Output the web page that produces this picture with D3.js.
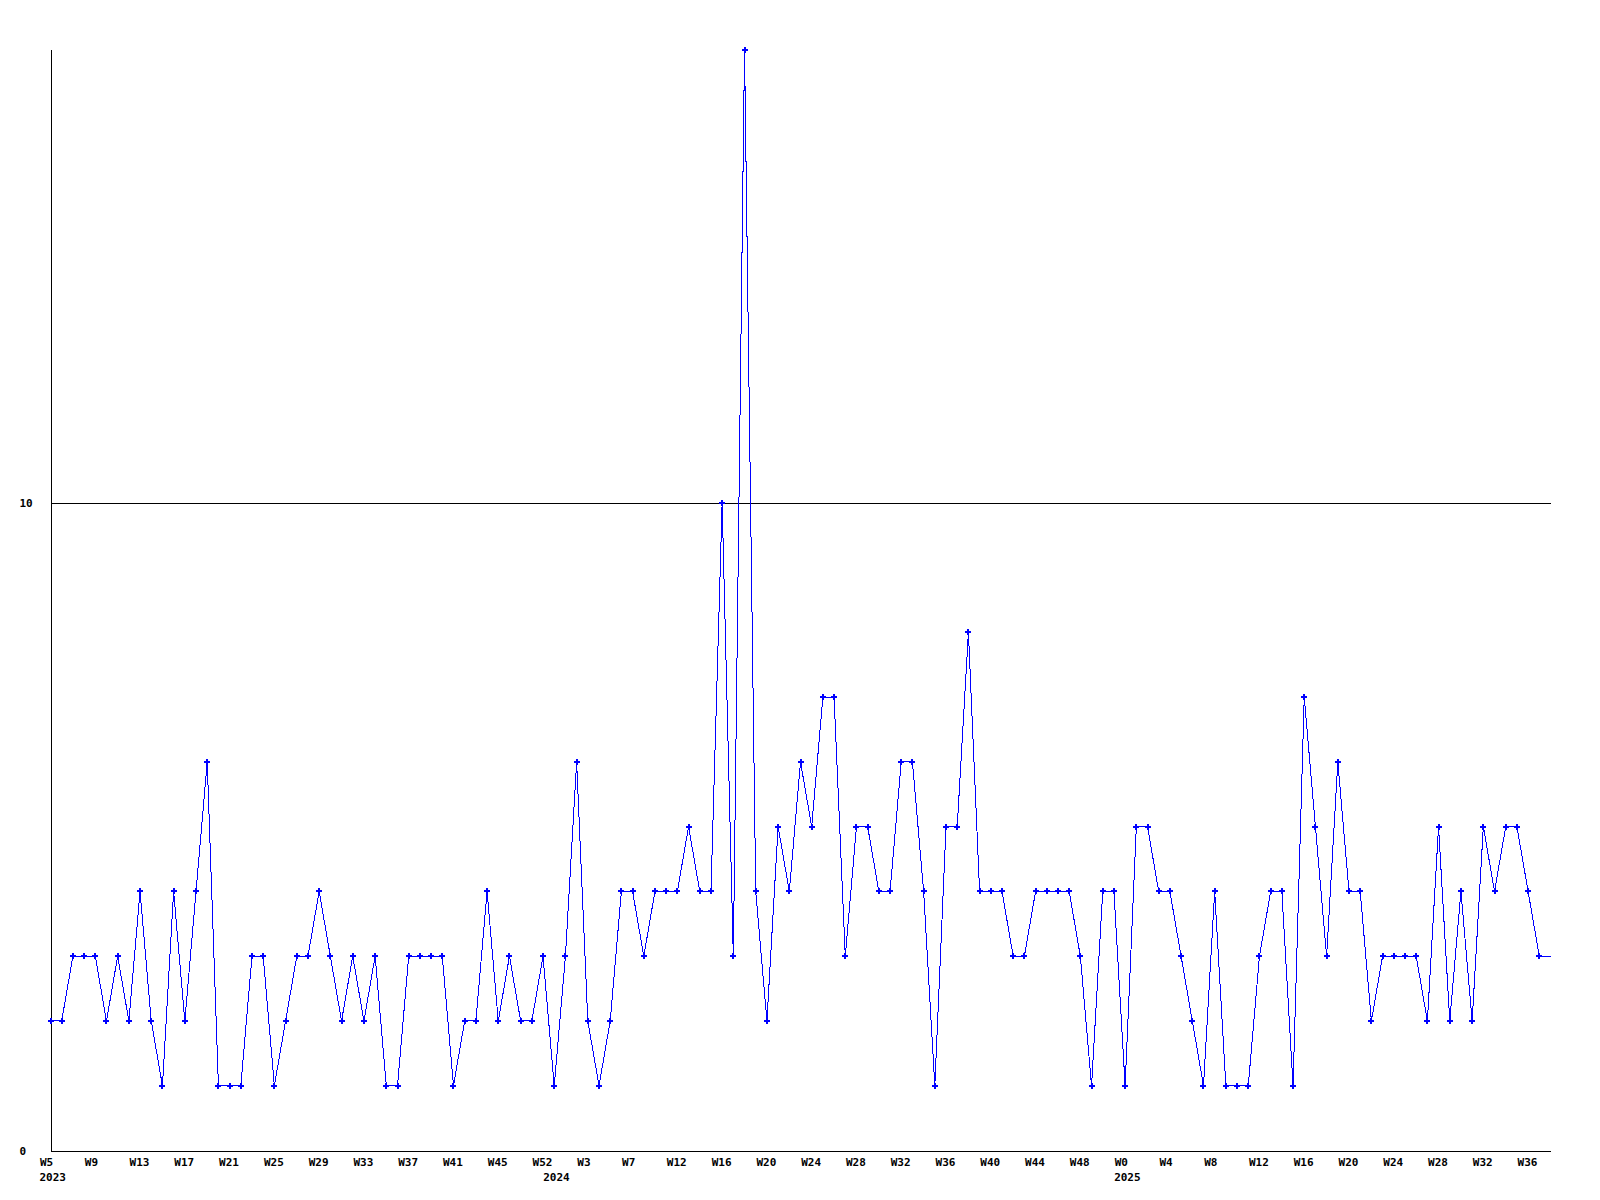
<!DOCTYPE html>
<html>
<head>
<meta charset="utf-8">
<script src="https://cdn.jsdelivr.net/npm/d3@7"></script>
<style>
  body { margin: 0; background: #fff; }
  text { font-family: "DejaVu Sans Mono", monospace; font-size: 11px; font-weight: bold; fill: #000; }
</style>
</head>
<body>
<div id="chart"></div>
<script>
// weekly counts, one per week, starting at 2023 W5
var counts = [
  2,2,3,3,3,2,3,2,4,2,1,4,2,4,6,1,1,1,3,3,1,2,3,3,4,3,2,3,2,3,1,1,3,3,3,3,1,2,2,4,2,3,2,2,3,1,3,
  6,2,1,2,4,4,3,4,4,4,5,4,4,10,3,17,4,2,5,4,6,5,7,7,3,5,5,4,4,6,6,4,1,5,5,8,4,4,4,3,3,4,4,4,4,3,
  1,4,4,1,5,5,4,4,3,2,1,4,1,1,1,3,4,4,1,7,5,3,6,4,4,2,3,3,3,3,2,5,2,4,2,5,4,5,5,4,3,
  3 // current week, not finished (no marker)
];

// x axis labels, one every 4 weeks
var weekLabels = ["W5","W9","W13","W17","W21","W25","W29","W33","W37","W41","W45","W52",
                  "W3","W7","W12","W16","W20","W24","W28","W32","W36","W40","W44","W48",
                  "W0","W4","W8","W12","W16","W20","W24","W28","W32","W36"];
var yearLabels = ["2023","2024","2025"];
var yearStarts = [0, 45, 96];
var yTicks = [0, 10];

var width = 1600, height = 1200;

var svg = d3.select("#chart").append("svg")
    .attr("width", width)
    .attr("height", height);

var x = d3.scaleLinear().domain([0, counts.length - 1]).range([50.5, 1550.5]);
var y = d3.scaleLinear().domain([0, d3.max(counts)]).range([1150.5, 49.5]);

// gridline at 10
svg.append("line")
    .attr("x1", x(0)).attr("x2", x(counts.length - 1))
    .attr("y1", Math.round(y(10)) + 0.5).attr("y2", Math.round(y(10)) + 0.5)
    .attr("stroke", "#000")
    .attr("shape-rendering", "crispEdges");

// y axis
var yAxis = svg.append("g")
    .attr("transform", "translate(" + x(0) + ",0)")
    .call(d3.axisLeft(y).tickValues(yTicks).tickSize(0).tickSizeOuter(0).tickFormat(d3.format("d")));
yAxis.select(".domain").attr("stroke", "#000").attr("shape-rendering", "crispEdges");
yAxis.selectAll("text")
    .attr("x", -31)
    .style("text-anchor", "start");
yAxis.attr("font-family", null).attr("font-size", null);

// x axis
var tickIdx = weekLabels.map(function(d, i) { return i * 4; });
var xAxis = svg.append("g")
    .attr("transform", "translate(0," + y(0) + ")")
    .call(d3.axisBottom(x).tickValues(tickIdx).tickSize(0).tickSizeOuter(0)
      .tickFormat(function(d) { return weekLabels[d / 4]; }));
xAxis.select(".domain").attr("stroke", "#000").attr("shape-rendering", "crispEdges");
xAxis.selectAll("text")
    .attr("y", 8)
    .attr("dx", -11)
    .style("text-anchor", "start");
xAxis.attr("font-family", null).attr("font-size", null);

// year labels under the week labels
svg.selectAll(".year")
    .data(yearLabels)
    .enter()
    .append("text")
    .attr("class", "year")
    .attr("x", function(d, i) { return x(yearStarts[i]) - 11; })
    .attr("y", 1181)
    .text(function(d) { return d; });

// the line
var line = d3.line()
    .x(function(d, i) { return x(i); })
    .y(function(d) { return y(d); });

svg.append("path")
    .datum(counts)
    .attr("d", line)
    .attr("fill", "none")
    .attr("stroke", "#0000ff")
    .attr("stroke-width", 1)
    .attr("shape-rendering", "crispEdges");

// markers (skip the unfinished last week)
svg.selectAll(".pt")
    .data(counts.slice(0, counts.length - 1))
    .enter()
    .append("path")
    .attr("class", "pt")
    .attr("d", d3.symbol(d3.symbolCross, 20))
    .attr("transform", function(d, i) { return "translate(" + x(i) + "," + y(d) + ")"; })
    .attr("fill", "#0000ff")
    .attr("shape-rendering", "crispEdges");
</script>
</body>
</html>
